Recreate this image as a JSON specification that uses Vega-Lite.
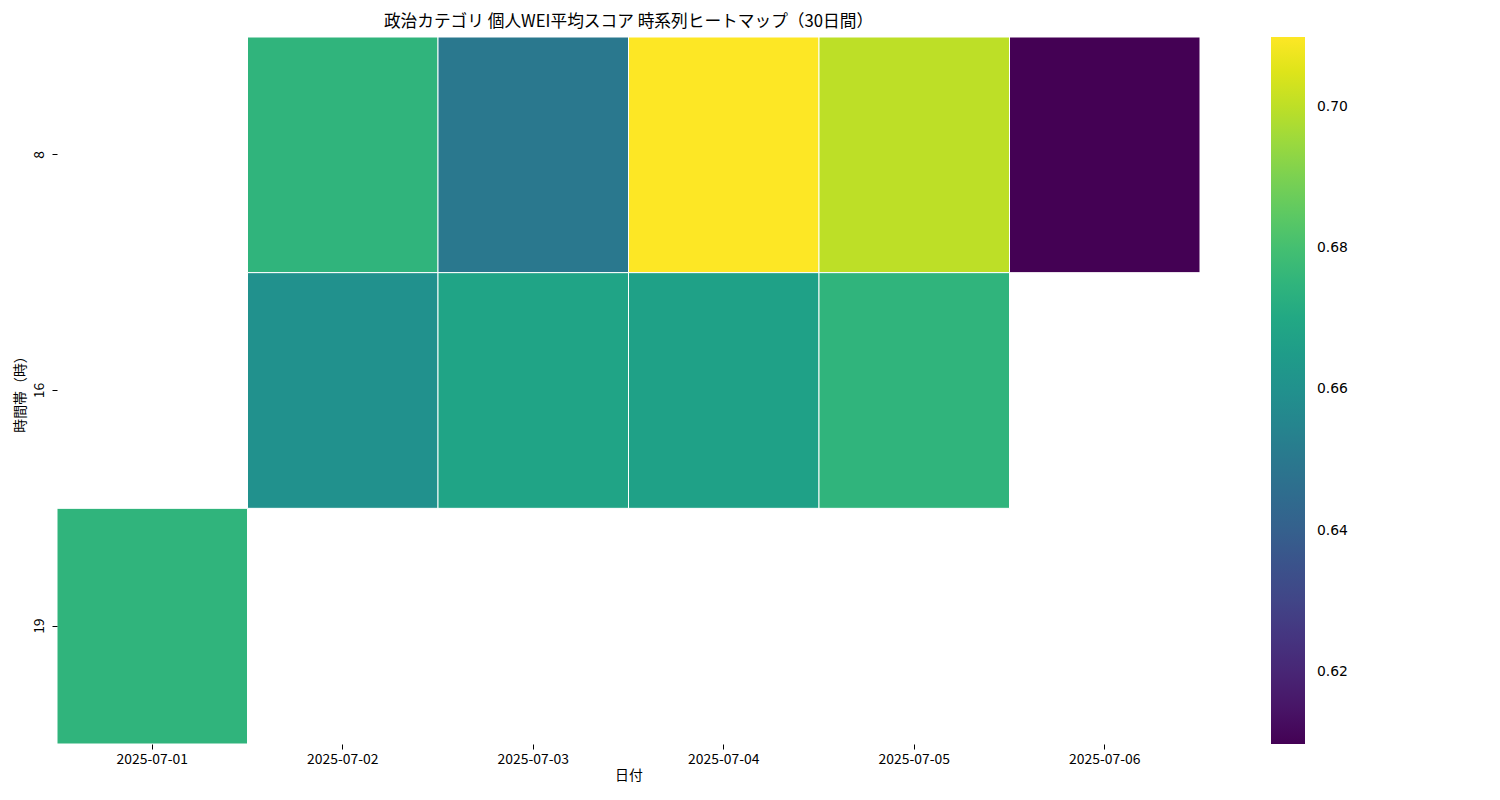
{
  "$schema": "https://vega.github.io/schema/vega-lite/v6.json",
  "autosize": "none",
  "padding": {"left": 57, "top": 37, "right": 300, "bottom": 56},
  "width": 1143,
  "height": 707,
  "background": "white",
  "title": {"text": "政治カテゴリ 個人WEI平均スコア 時系列ヒートマップ（30日間）", "fontSize": 16.7, "fontWeight": "normal", "font": "Noto Sans CJK JP", "color": "#000000", "anchor": "middle", "offset": 6},
  "config": {
    "view": {"stroke": null},
    "font": "Noto Sans CJK JP",
    "axis": {"grid": false, "domain": false, "tickColor": "#000000", "tickSize": 5, "labelFont": "Noto Sans CJK JP", "labelFontSize": 13.9, "labelColor": "#000000", "titleFont": "Noto Sans CJK JP", "titleFontSize": 13.9, "titleFontWeight": "normal", "titleColor": "#000000"}
  },
  "data": {"values": [
    {"date": "2025-07-01", "hour": 19, "score": 0.675},
    {"date": "2025-07-02", "hour": 8, "score": 0.675},
    {"date": "2025-07-03", "hour": 8, "score": 0.650},
    {"date": "2025-07-04", "hour": 8, "score": 0.7099},
    {"date": "2025-07-05", "hour": 8, "score": 0.700},
    {"date": "2025-07-06", "hour": 8, "score": 0.6098},
    {"date": "2025-07-02", "hour": 16, "score": 0.660},
    {"date": "2025-07-03", "hour": 16, "score": 0.668},
    {"date": "2025-07-04", "hour": 16, "score": 0.667},
    {"date": "2025-07-05", "hour": 16, "score": 0.675}
  ]},
  "mark": {"type": "rect", "stroke": "white", "strokeWidth": 1},
  "encoding": {
    "x": {"field": "date", "type": "ordinal", "title": "日付",
          "scale": {"domain": ["2025-07-01","2025-07-02","2025-07-03","2025-07-04","2025-07-05","2025-07-06"], "paddingInner": 0, "paddingOuter": 0},
          "axis": {"labelAngle": 0, "labelPadding": 3, "titlePadding": 3}},
    "y": {"field": "hour", "type": "ordinal", "title": "時間帯（時）",
          "scale": {"domain": [8, 16, 19], "paddingInner": 0, "paddingOuter": 0},
          "axis": {"labelAngle": 270, "labelBaseline": "bottom", "labelAlign": "center", "labelPadding": 6, "titlePadding": 5}},
    "color": {"field": "score", "type": "quantitative",
              "scale": {"scheme": "viridis", "domain": [0.6098, 0.7099]},
              "legend": {"orient": "none", "legendX": 1214, "legendY": 0, "title": null, "direction": "vertical",
                         "gradientLength": 707, "gradientThickness": 34, "gradientStrokeWidth": 0,
                         "values": [0.62, 0.64, 0.66, 0.68, 0.70], "format": ".2f",
                         "labelFontSize": 13.9, "labelFont": "DejaVu Sans", "labelColor": "#000000", "labelOffset": 12}}
  }
}
